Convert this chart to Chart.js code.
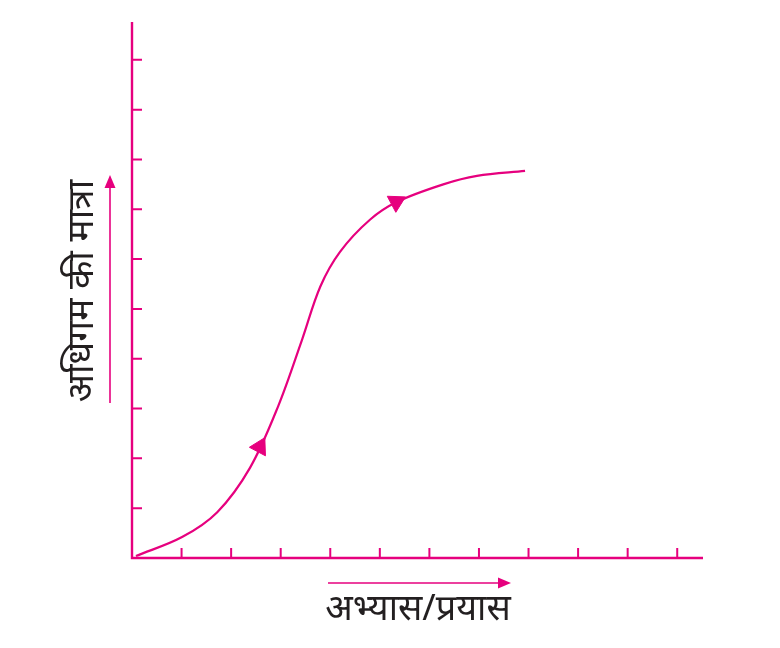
<!DOCTYPE html>
<html lang="hi">
<head>
    <meta charset="UTF-8">
    <title>अधिगम वक्र</title>
    <script src="https://cdn.jsdelivr.net/npm/chart.js"></script>
    <style>
        body {
            margin: 0;
            background: #ffffff;
        }
        #wrap {
            width: 780px;
            height: 648px;
        }
        canvas {
            display: block;
        }
    </style>
</head>
<body>
    <div id="wrap">
        <canvas id="learningCurve" width="780" height="648"></canvas>
    </div>

    <script>
        // Data (x = practice units, y = amount of learning units)
        const curveX = [0.08, 1.01, 1.72, 2.38, 2.95, 3.43, 3.80, 4.20, 4.80, 5.35, 6.28, 6.96, 7.93];
        const curveY = [0.04, 0.42, 0.92, 1.81, 3.05, 4.38, 5.45, 6.15, 6.79, 7.15, 7.50, 7.67, 7.77];

        // arrow heads sitting on the curve
        const arrowX = [2.58, 5.33];
        const arrowY = [2.23, 7.15];
        const arrowTurn = [28, 62];

        const xTicks = [1, 2, 3, 4, 5, 6, 7, 8, 9, 10, 11];
        const yTicks = [1, 2, 3, 4, 5, 6, 7, 8, 9, 10];

        const xTitle = 'अभ्यास/प्रयास';
        const yTitle = 'अधिगम की मात्रा';

        const pink = '#e6007e';
        const textColor = '#231f20';
        const labelFont = '36px "Noto Sans", "DejaVu Sans", sans-serif';

        // draws the axis lines, inside tick marks and the two labels with their arrows
        const axesPlugin = {
            id: 'axesPlugin',
            afterDatasetsDraw(chart) {
                const ctx = chart.ctx;
                const x = chart.scales.x;
                const y = chart.scales.y;
                const x0 = x.getPixelForValue(0);
                const y0 = y.getPixelForValue(0);

                ctx.save();
                ctx.strokeStyle = pink;
                ctx.lineWidth = 2.4;
                ctx.beginPath();
                ctx.moveTo(x0, y.top);
                ctx.lineTo(x0, y0);
                ctx.lineTo(x.right, y0);
                ctx.stroke();

                ctx.lineWidth = 2;
                ctx.beginPath();
                xTicks.forEach(v => {
                    const px = x.getPixelForValue(v);
                    ctx.moveTo(px, y0);
                    ctx.lineTo(px, y0 - 10);
                });
                yTicks.forEach(v => {
                    const py = y.getPixelForValue(v);
                    ctx.moveTo(x0, py);
                    ctx.lineTo(x0 + 10, py);
                });
                ctx.stroke();

                // x label + arrow
                ctx.lineWidth = 1.6;
                ctx.beginPath();
                ctx.moveTo(328, 583);
                ctx.lineTo(500, 583);
                ctx.stroke();
                ctx.fillStyle = pink;
                ctx.beginPath();
                ctx.moveTo(511, 583);
                ctx.lineTo(498, 577.5);
                ctx.lineTo(498, 588.5);
                ctx.closePath();
                ctx.fill();

                // y label arrow
                ctx.beginPath();
                ctx.moveTo(110, 403);
                ctx.lineTo(110, 186);
                ctx.stroke();
                ctx.beginPath();
                ctx.moveTo(110, 175);
                ctx.lineTo(104.5, 188);
                ctx.lineTo(115.5, 188);
                ctx.closePath();
                ctx.fill();

                ctx.fillStyle = textColor;
                ctx.font = labelFont;
                ctx.textAlign = 'center';
                ctx.textBaseline = 'middle';
                ctx.fillText(xTitle, 418, 610);

                ctx.translate(82, 291);
                ctx.rotate(-Math.PI / 2);
                ctx.font = '37px "Noto Sans", "DejaVu Sans", sans-serif';
                ctx.fillText(yTitle, 0, 0);
                ctx.restore();
            }
        };

        const ctx = document.getElementById('learningCurve').getContext('2d');
        new Chart(ctx, {
            type: 'scatter',
            data: {
                datasets: [{
                    data: curveX.map((v, i) => ({ x: v, y: curveY[i] })),
                    showLine: true,
                    borderColor: pink,
                    borderWidth: 2.2,
                    tension: 0.35,
                    pointRadius: 0
                }, {
                    data: arrowX.map((v, i) => ({ x: v, y: arrowY[i] })),
                    showLine: false,
                    pointStyle: 'triangle',
                    pointRadius: 10.5,
                    rotation: arrowTurn,
                    backgroundColor: pink,
                    borderColor: pink,
                    borderWidth: 1
                }]
            },
            options: {
                responsive: false,
                animation: false,
                events: [],
                layout: {
                    padding: { left: 132, right: 77, top: 22, bottom: 90 }
                },
                plugins: {
                    legend: { display: false },
                    tooltip: { enabled: false }
                },
                scales: {
                    x: { type: 'linear', display: false, min: 0, max: 11.52 },
                    y: { type: 'linear', display: false, min: 0, max: 10.76 }
                }
            },
            plugins: [axesPlugin]
        });
    </script>
</body>
</html>
